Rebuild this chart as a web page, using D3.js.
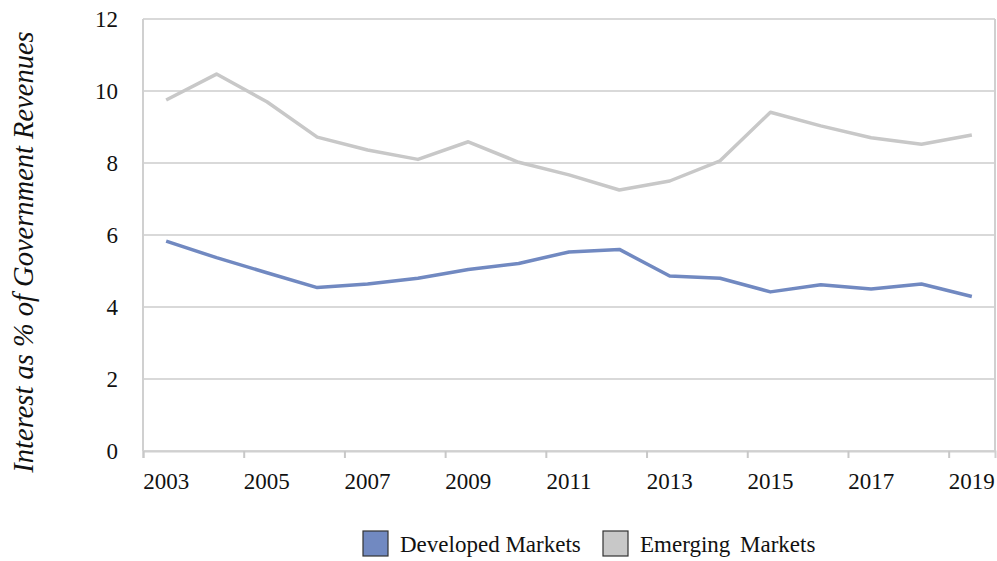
<!DOCTYPE html>
<html>
<head>
<meta charset="utf-8">
<script src="https://cdn.jsdelivr.net/npm/d3@7/dist/d3.min.js"></script>
<style>
    body{ margin:0; background:#fff; }
    svg text{ font-family:"Liberation Serif","Times New Roman",serif; fill:#111; }
    .grid line{ stroke:#d9d9d9; stroke-width:2px; }
</style>
</head>
<body>
<div id="container"></div>
<script>
// data, one value per year
var years = [2003,2004,2005,2006,2007,2008,2009,2010,2011,2012,2013,2014,2015,2016,2017,2018,2019];
var developed = [5.83,5.37,4.95,4.54,4.64,4.80,5.04,5.21,5.53,5.60,4.86,4.80,4.42,4.62,4.50,4.64,4.29];
var emerging  = [9.75,10.47,9.70,8.72,8.36,8.10,8.59,8.02,7.67,7.25,7.50,8.06,9.41,9.03,8.70,8.52,8.78];
var yTicks = [0,2,4,6,8,10,12];
var xLabels = ["2003","2005","2007","2009","2011","2013","2015","2017","2019"];
var seriesNames = ["Developed Markets","Emerging Markets"];
var colors = ["#7189c1","#c8c8c8"];

var W = 997, H = 561;
var mLeft = 143, mRight = 995, mTop = 19, mBottom = 451;

var svg = d3.select("#container").append("svg")
    .attr("width", W).attr("height", H);

var x = d3.scaleLinear().domain([-0.46, 16.46]).range([mLeft, mRight]);
var y = d3.scaleLinear().domain([0, 12]).range([mBottom, mTop]);

// horizontal gridlines
svg.append("g").attr("class","grid")
    .selectAll("line").data(yTicks).enter().append("line")
    .attr("x1", mLeft).attr("x2", mRight)
    .attr("y1", function(d){return y(d)}).attr("y2", function(d){return y(d)});

// plot borders left / right
svg.append("line").attr("x1", mLeft).attr("x2", mLeft).attr("y1", mTop).attr("y2", mBottom)
    .attr("stroke","#d0d0d0").attr("stroke-width",2);
svg.append("line").attr("x1", mRight).attr("x2", mRight).attr("y1", mTop).attr("y2", mBottom)
    .attr("stroke","#d0d0d0").attr("stroke-width",2);

// y axis labels
var yAxis = d3.axisLeft(y).tickValues(yTicks).tickSize(0).tickPadding(25);
svg.append("g").attr("transform","translate(" + mLeft + ",0)").call(yAxis)
    .call(function(g){ g.select(".domain").remove(); })
    .selectAll("text").attr("font-size", 23).attr("font-family","Liberation Serif").attr("fill","#111");

// x axis: ticks between every two years, label under the odd years
var tickPos = d3.range(9).map(function(k){ return -0.46 + 2*k; });
var xAxis = d3.axisBottom(x).tickValues(tickPos).tickSize(7).tickFormat("");
svg.append("g").attr("transform","translate(0," + mBottom + ")").call(xAxis)
    .call(function(g){
        g.select(".domain").attr("stroke","#d0d0d0").attr("stroke-width",2);
        g.selectAll(".tick line").attr("stroke","#c8c8c8").attr("stroke-width",2);
    });
svg.append("g").selectAll("text").data(xLabels).enter().append("text")
    .attr("x", function(d,i){ return x(2*i); })
    .attr("y", 489)
    .attr("text-anchor","middle")
    .attr("font-size", 23)
    .text(function(d){return d});

// y title
svg.append("text")
    .attr("transform","translate(33,252) rotate(-90)")
    .attr("text-anchor","middle")
    .attr("font-size", 28.5)
    .attr("font-style","italic")
    .text("Interest as % of Government Revenues");

// lines
var line = d3.line()
    .x(function(d,i){ return x(i); })
    .y(function(d){ return y(d); });

[emerging, developed].forEach(function(s, k){
    svg.append("path").datum(s)
        .attr("d", line)
        .attr("fill","none")
        .attr("stroke", k == 0 ? colors[1] : colors[0])
        .attr("stroke-width", 3.5)
        .attr("stroke-linejoin","round");
});

// legend
var legendX = [363, 603];
var lg = svg.append("g").selectAll("g").data(seriesNames).enter().append("g")
    .attr("transform", function(d,i){ return "translate(" + legendX[i] + ",531)"; });
lg.append("rect").attr("width", 25).attr("height", 25)
    .attr("fill", function(d,i){ return colors[i]; })
    .attr("stroke","#333").attr("stroke-width",1.2);
lg.append("text").attr("x", 37).attr("y", 21).attr("font-size", 23)
    .attr("word-spacing", function(d,i){ return i == 1 ? 4 : 0; })
    .text(function(d){return d});
</script>
</body>
</html>
